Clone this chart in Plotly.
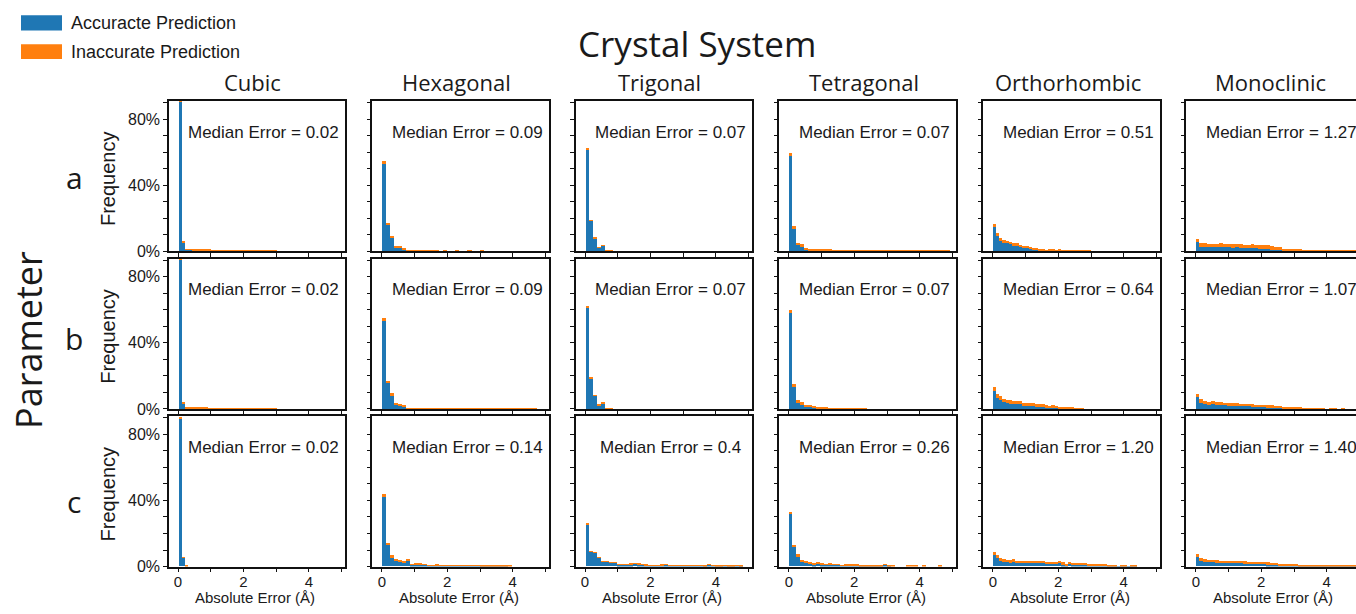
import plotly.graph_objects as go

W, H = 1356, 614

systems = ["Cubic", "Hexagonal", "Trigonal", "Tetragonal", "Orthorhombic", "Monoclinic"]
params = ["a", "b", "c"]
bin_widths = [0.1, 0.125, 0.12, 0.12, 0.1, 0.12]

median_a = ["0.02", "0.09", "0.07", "0.07", "0.51", "1.27"]
median_b = ["0.02", "0.09", "0.07", "0.07", "0.64", "1.07"]
median_c = ["0.02", "0.14", "0.4", "0.26", "1.20", "1.40"]

x_tick_vals = [0, 1, 2, 3, 4, 5]
x_tick_text = ["0", "", "2", "", "4", ""]
y_tick_vals = [0, 0.1, 0.2, 0.3, 0.4, 0.5, 0.6, 0.7, 0.8, 0.9]
y_tick_text = ["0%", "", "", "", "40%", "", "", "", "80%", ""]

# ---- histogram values (percent of structures per bin) ----
cubic_a_acc = [90.5, 5.5, 0.8, 0.8, 0.7, 0.5, 0.3, 0.6, 0.6, 0.4, 0.3, 0.2, 0.3, 0.2, 0.2, 0.2, 0.1, 0.1, 0.2, 0.1, 0.1, 0.1, 0.1, 0.1, 0.1, 0.1, 0.1, 0.1, 0.1, 0.1]
cubic_a_inacc = [0.6, 0.5, 0.3, 0.3, 0.3, 0.4, 0.5, 0.4, 0.3, 0.4, 0.4, 0.5, 0.4, 0.3, 0.4, 0.3, 0.4, 0.3, 0.3, 0.4, 0.3, 0.3, 0.3, 0.3, 0.3, 0.3, 0.3, 0.3, 0.3, 0.3]
cubic_b_acc = [90.5, 3.5, 0.5, 0.4, 0.3, 0.3, 0.2, 0.2, 0.2, 0.1, 0.1, 0.1, 0.1, 0.1, 0.1, 0.1, 0.1, 0.1, 0.1, 0.1, 0.1, 0.1, 0.1, 0.1, 0.1, 0.1, 0.1, 0.1, 0.1, 0.1]
cubic_b_inacc = [0.6, 0.5, 0.5, 0.6, 0.6, 0.6, 0.7, 0.6, 0.6, 0.5, 0.5, 0.5, 0.6, 0.5, 0.5, 0.5, 0.5, 0.4, 0.5, 0.5, 0.4, 0.4, 0.4, 0.4, 0.4, 0.4, 0.4, 0.4, 0.4, 0.4]
cubic_c_acc = [89.5, 5.0, 0.0]
cubic_c_inacc = [0.4, 0.5, 0.6]

hex_a_acc = [53.0, 16.0, 7.8, 2.4, 2.2, 1.1, 0.2, 0.1, 0.1, 0.1, 0.0, 0.1, 0.0, 0.1, 0.0, 0.1, 0.0, 0.0, 0.1, 0.0, 0.0, 0.1, 0.0, 0.0, 0.1, 0.0, 0.0, 0.0]
hex_a_inacc = [1.8, 0.5, 1.6, 0.8, 0.6, 0.3, 0.3, 0.3, 0.2, 0.2, 0.2, 0.1, 0.2, 0.1, 0.1, 0.2, 0.1, 0.1, 0.1, 0.1, 0.1, 0.1, 0.1, 0.1, 0.1, 0.1, 0.1, 0.1]
hex_b_acc = [53.3, 16.0, 8.0, 3.0, 2.2, 1.6, 0.3, 0.2, 0.2, 0.1, 0.2, 0.1, 0.1, 0.2, 0.1, 0.1, 0.2, 0.1, 0.1, 0.1, 0.1, 0.2, 0.1, 0.1, 0.1, 0.1, 0.1, 0.1, 0.2, 0.1, 0.1, 0.1, 0.1, 0.1, 0.1, 0.1, 0.1, 0.1]
hex_b_inacc = [1.8, 0.7, 1.6, 0.6, 0.6, 0.4, 0.3, 0.3, 0.4, 0.3, 0.5, 0.3, 0.4, 0.5, 0.5, 0.3, 0.3, 0.2, 0.2, 0.2, 0.2, 0.2, 0.2, 0.2, 0.2, 0.2, 0.2, 0.2, 0.2, 0.2, 0.2, 0.2, 0.2, 0.2, 0.2, 0.2, 0.2, 0.2]
hex_c_acc = [42.4, 13.1, 5.4, 3.6, 3.0, 2.4, 3.6, 0.8, 1.2, 1.0, 0.8, 0.3, 0.3, 0.5, 0.3, 0.2, 0.3, 0.3, 0.4, 0.2, 0.3, 0.2, 0.2, 0.3, 0.1, 0.1, 0.1, 0.1, 0.1, 0.1, 0.1, 0.0]
hex_c_inacc = [1.2, 0.6, 1.2, 0.6, 0.6, 0.6, 0.6, 0.4, 0.6, 0.8, 0.4, 0.3, 0.3, 0.3, 0.4, 0.3, 0.3, 0.3, 0.3, 0.3, 0.3, 0.3, 0.3, 0.3, 0.1, 0.1, 0.1, 0.3, 0.1, 0.1, 0.1, 0.3]

trig_a_acc = [61.3, 18.5, 8.0, 2.0, 3.5, 0.0, 0.0]
trig_a_inacc = [1.4, 0.3, 0.2, 0.1, 0.1, 0.5, 0.3]
trig_b_acc = [61.5, 18.8, 8.2, 2.5, 3.6, 0.0, 0.0]
trig_b_inacc = [1.2, 0.3, 0.2, 0.1, 0.2, 0.5, 0.4]
trig_c_acc = [25.5, 9.0, 8.2, 5.4, 3.0, 2.6, 2.4, 2.0, 1.0, 0.8, 1.0, 1.2, 1.4, 1.2, 0.9, 0.7, 0.5, 0.4, 0.4, 0.6, 0.9, 0.4, 0.3, 0.2, 0.2, 0.3, 0.3, 0.2, 0.2, 0.2, 0.1, 1.0, 0.2, 0.1, 0.1, 0.2, 0.1, 0.1, 0.2, 0.1]
trig_c_inacc = [0.3, 0.1, 0.2, 0.2, 0.1, 0.1, 0.1, 0.1, 0.3, 0.2, 0.3, 0.4, 0.4, 0.3, 0.2, 0.2, 0.1, 0.1, 0.1, 0.2, 0.4, 0.2, 0.1, 0.1, 0.2, 0.2, 0.1, 0.1, 0.1, 0.1, 0.1, 0.1, 0.1, 0.1, 0.1, 0.1, 0.1, 0.1, 0.1, 0.1]

tetr_a_acc = [57.7, 13.4, 3.6, 2.8, 1.2, 0.6, 0.6, 0.5, 0.2, 0.2, 0.2, 0.1, 0.1, 0.1, 0.1, 0.1, 0.1, 0.1, 0.1, 0.1, 0.1, 0.1, 0.1, 0.1, 0.1, 0.0, 0.0, 0.0, 0.0, 0.0, 0.0, 0.0, 0.0, 0.0, 0.0, 0.0, 0.0, 0.0, 0.0, 0.0, 0.0]
tetr_a_inacc = [1.6, 1.8, 1.6, 1.4, 1.0, 0.8, 0.8, 0.9, 0.6, 0.6, 0.6, 0.5, 0.5, 0.3, 0.3, 0.3, 0.3, 0.3, 0.3, 0.6, 0.3, 0.3, 0.3, 0.2, 0.2, 0.2, 0.2, 0.2, 0.2, 0.6, 0.2, 0.2, 0.2, 0.2, 0.2, 0.2, 0.2, 0.2, 0.2, 0.2, 0.3]
tetr_b_acc = [58.5, 13.7, 3.8, 3.0, 1.8, 1.4, 1.0, 0.6, 0.4, 0.6, 0.3, 0.1, 0.2, 0.1, 0.1, 0.1, 0.0, 0.0, 0.0, 0.0]
tetr_b_inacc = [1.5, 1.8, 1.6, 1.2, 0.6, 1.0, 0.8, 0.6, 0.6, 0.8, 0.3, 0.2, 0.4, 0.2, 0.2, 0.2, 0.2, 0.2, 0.2, 0.2]
tetr_c_acc = [32.0, 12.0, 6.0, 3.0, 2.4, 1.8, 1.2, 1.8, 1.2, 0.8, 1.2, 0.8, 0.8, 0.3, 0.6, 0.6, 0.6, 0.6, 0.1, 0.1, 0.1, 0.1, 0.1, 0.1, 1.0, 0.1, 0.0, 0.0, 0.0, 0.0, 0.0, 0.0, 0.0, 0.0, 0.0, 0.0, 0.0, 0.0, 0.0]
tetr_c_inacc = [0.8, 0.5, 1.2, 0.6, 0.6, 0.6, 0.6, 0.6, 0.6, 0.4, 0.6, 0.4, 0.4, 0.3, 0.6, 0.6, 0.6, 0.6, 0.5, 0.5, 0.5, 0.5, 0.5, 0.5, 0.3, 0.5, 0.5, 0.0, 0.0, 0.0, 0.5, 0.5, 0.5, 0.0, 0.5, 0.0, 0.0, 0.0, 0.5]

ortho_a_acc = [14.5, 9.1, 6.1, 5.2, 4.8, 4.2, 3.4, 3.0, 2.4, 2.0, 1.8, 1.4, 1.0, 1.0, 0.6, 0.4, 0.3, 0.3, 0.2, 0.2, 0.3, 0.1, 0.1, 0.1, 0.1, 0.1, 0.1, 0.1, 0.1, 0.1]
ortho_a_inacc = [1.8, 1.8, 1.9, 1.5, 1.4, 1.4, 1.6, 2.0, 1.4, 1.2, 1.4, 0.6, 0.6, 1.0, 0.8, 1.0, 0.3, 0.5, 0.6, 0.4, 0.5, 0.3, 0.3, 0.3, 0.3, 0.3, 0.3, 0.3, 0.3, 0.3]
ortho_b_acc = [11.3, 6.6, 5.4, 4.2, 3.6, 3.0, 3.0, 3.0, 3.0, 2.4, 2.2, 2.0, 2.0, 1.8, 1.6, 1.4, 1.2, 0.8, 1.2, 1.0, 0.6, 0.6, 0.3, 0.2, 0.2, 0.1, 0.1, 0.1]
ortho_b_inacc = [2.4, 2.4, 2.4, 1.8, 1.8, 2.4, 1.8, 1.8, 1.8, 1.2, 1.4, 1.6, 1.6, 1.2, 1.4, 1.6, 1.2, 1.0, 1.2, 0.8, 0.6, 0.6, 0.5, 0.6, 0.6, 0.6, 0.6, 0.6]
ortho_c_acc = [7.0, 5.4, 3.6, 3.0, 2.6, 2.4, 2.8, 2.4, 2.2, 2.4, 2.2, 2.4, 2.2, 2.0, 2.2, 2.2, 1.8, 1.8, 1.6, 1.6, 2.0, 1.2, 0.6, 1.6, 0.8, 0.8, 0.8, 0.8, 0.8, 0.6, 0.6, 0.3, 0.2, 0.2, 0.2, 0.1, 0.1, 0.1, 0.1, 0.1, 0.1, 0.1, 0.1, 0.1]
ortho_c_inacc = [1.4, 1.2, 1.2, 1.2, 1.0, 1.2, 1.4, 1.0, 1.2, 1.0, 1.2, 1.0, 1.2, 1.2, 1.0, 1.2, 1.0, 1.0, 1.2, 0.8, 1.0, 1.2, 1.0, 1.2, 1.0, 1.2, 1.0, 0.8, 1.0, 0.8, 0.8, 0.7, 0.7, 0.6, 0.6, 0.6, 0.6, 0.6, 0.0, 0.6, 0.6, 0.0, 0.6, 0.6]

mono_a_acc = [5.8, 2.8, 2.8, 2.6, 2.6, 2.4, 2.6, 2.4, 2.4, 2.2, 2.4, 2.2, 2.0, 2.0, 2.0, 1.8, 1.6, 1.6, 1.4, 1.0, 0.8, 0.8, 0.4, 0.4, 0.3, 0.2, 0.2, 0.1, 0.1, 0.1, 0.1, 0.1, 0.1, 0.1, 0.1, 0.1, 0.1, 0.1, 0.1, 0.1, 0.1, 0.1]
mono_a_inacc = [1.4, 2.0, 2.0, 1.9, 1.9, 2.1, 2.2, 2.1, 2.1, 2.0, 2.1, 2.3, 2.0, 2.0, 2.2, 2.0, 2.0, 2.0, 2.4, 2.0, 1.6, 1.6, 0.8, 0.8, 0.7, 0.6, 0.6, 0.6, 0.6, 0.6, 0.5, 0.5, 0.5, 0.5, 0.5, 0.5, 0.5, 0.5, 0.5, 0.5, 0.5, 0.5]
mono_b_acc = [7.2, 3.6, 3.0, 2.4, 3.0, 2.4, 2.6, 2.4, 2.2, 2.2, 2.0, 2.0, 1.8, 1.8, 1.6, 1.6, 1.4, 1.4, 1.2, 1.2, 1.0, 0.8, 0.6, 0.5, 0.4, 0.2, 0.2, 0.2, 0.1, 0.1, 0.1, 0.1, 0.1, 0.0, 0.0, 0.1, 0.0, 0.0]
mono_b_inacc = [1.8, 2.4, 1.8, 1.8, 1.8, 1.8, 1.6, 1.6, 1.6, 1.6, 1.6, 1.4, 1.6, 1.4, 1.4, 1.2, 1.4, 1.2, 1.2, 1.2, 1.0, 0.8, 0.6, 0.7, 0.6, 0.6, 0.6, 0.5, 0.5, 0.5, 0.5, 0.5, 0.5, 0.0, 0.5, 0.5, 0.0, 0.5]
mono_c_acc = [6.0, 3.6, 3.0, 2.8, 2.6, 2.4, 2.2, 2.4, 2.2, 2.0, 2.0, 2.2, 1.8, 1.8, 1.6, 1.6, 1.4, 1.4, 1.2, 1.2, 0.8, 0.6, 0.5, 0.4, 0.3, 0.2, 0.1, 0.1, 0.1, 0.1, 0.1, 0.1, 0.1, 0.1, 0.1, 0.1, 0.1, 0.1, 0.1, 0.1, 0.1, 0.1]
mono_c_inacc = [1.2, 1.2, 1.2, 1.0, 1.0, 1.2, 1.2, 1.0, 1.0, 1.2, 1.0, 1.0, 1.2, 1.0, 1.2, 1.0, 1.0, 1.0, 1.2, 1.0, 1.0, 0.8, 0.7, 0.7, 0.6, 0.6, 0.5, 0.5, 0.5, 0.5, 0.5, 0.5, 0.5, 0.5, 0.5, 0.5, 0.5, 0.5, 0.5, 0.5, 0.5, 0.5]

accurate = [
    [cubic_a_acc, hex_a_acc, trig_a_acc, tetr_a_acc, ortho_a_acc, mono_a_acc],
    [cubic_b_acc, hex_b_acc, trig_b_acc, tetr_b_acc, ortho_b_acc, mono_b_acc],
    [cubic_c_acc, hex_c_acc, trig_c_acc, tetr_c_acc, ortho_c_acc, mono_c_acc],
]
inaccurate = [
    [cubic_a_inacc, hex_a_inacc, trig_a_inacc, tetr_a_inacc, ortho_a_inacc, mono_a_inacc],
    [cubic_b_inacc, hex_b_inacc, trig_b_inacc, tetr_b_inacc, ortho_b_inacc, mono_b_inacc],
    [cubic_c_inacc, hex_c_inacc, trig_c_inacc, tetr_c_inacc, ortho_c_inacc, mono_c_inacc],
]
medians = [median_a, median_b, median_c]

BLUE = "#1f77b4"
ORANGE = "#ff7f0e"
AX = "#111111"
TXT = "#1a1a1a"
SANS = "Liberation Sans, Arial, sans-serif"
TITLEF = "Open Sans, Noto Sans, sans-serif"

# layout geometry in page pixels
lefts = [168.5, 372.3, 575.5, 779.3, 983.3, 1186.3]
pw = 176.5
rows_px = [(102.5, 255.0), (262.5, 415.0), (422.5, 575.0)]
xr0, xr1 = -0.29, 5.10
yr = [0, 0.909]


def px_x(p):
    return p / W


def px_y(p):
    return 1 - p / H


fig = go.Figure()
layout = {}
annotations = []
shapes = []

for r in range(3):
    top, bot = rows_px[r]
    for c in range(6):
        k = r * 6 + c + 1
        sx = "" if k == 1 else str(k)
        l = lefts[c]
        rr = min(l + pw, W)
        xmax = xr0 + (rr - l) / pw * (xr1 - xr0)
        bw = bin_widths[c]
        acc = accurate[r][c]
        ina = inaccurate[r][c]
        centers = [bw * (i + 0.5) for i in range(len(acc))]
        fig.add_trace(go.Bar(
            x=centers, y=[v / 100 for v in acc], width=bw,
            marker=dict(color=BLUE, line=dict(width=0)),
            name="Accuracte Prediction", showlegend=False,
            xaxis="x" + sx, yaxis="y" + sx,
        ))
        fig.add_trace(go.Bar(
            x=centers, y=[v / 100 for v in ina], width=bw,
            marker=dict(color=ORANGE, line=dict(width=0)),
            name="Inaccurate Prediction", showlegend=False,
            xaxis="x" + sx, yaxis="y" + sx,
        ))
        layout["xaxis" + sx] = dict(
            domain=[px_x(l), min(px_x(rr), 1.0)], range=[xr0, xmax], anchor="y" + sx,
            showline=True, linecolor=AX, linewidth=1.5, mirror=True,
            ticks="outside", ticklen=3.5, tickwidth=1, tickcolor=AX,
            tickvals=x_tick_vals, ticktext=x_tick_text,
            showticklabels=(r == 2), ticklabelstandoff=-3,
            showgrid=False, zeroline=False,
            tickfont=dict(family=SANS, size=15, color=TXT), fixedrange=True,
        )
        layout["yaxis" + sx] = dict(
            domain=[px_y(bot), px_y(top)], range=yr, anchor="x" + sx,
            showline=True, linecolor=AX, linewidth=1.5, mirror=(c != 5),
            ticks="outside", ticklen=3.5, tickwidth=1, tickcolor=AX,
            tickvals=y_tick_vals, ticktext=y_tick_text,
            showticklabels=(c == 0), showgrid=False, zeroline=False,
            tickfont=dict(family=SANS, size=16, color=TXT), fixedrange=True,
        )
        cx = l + 0.54 * pw
        annotations.append(dict(
            text="Median Error = " + medians[r][c], xref="paper", yref="paper",
            x=px_x(cx), y=px_y(top + 31.5), xanchor="center", yanchor="middle",
            showarrow=False, font=dict(family=SANS, size=17, color=TXT),
        ))
        if r == 2:
            annotations.append(dict(
                text="Absolute Error (Å)", xref="paper", yref="paper",
                x=px_x(l + pw / 2 - 2), y=px_y(606), xanchor="center", yanchor="middle",
                showarrow=False, font=dict(family=SANS, size=15, color=TXT),
            ))
        if c == 0:
            annotations.append(dict(
                text="Frequency", xref="paper", yref="paper",
                x=px_x(108), y=px_y((top + bot) / 2 + 3), xanchor="center", yanchor="middle",
                textangle=-90, showarrow=False, font=dict(family=SANS, size=20, color=TXT),
            ))
    annotations.append(dict(
        text=params[r], xref="paper", yref="paper",
        x=px_x(74), y=px_y([180, 344, 509][r]), xanchor="center", yanchor="middle",
        showarrow=False, font=dict(family=TITLEF, size=30, color=TXT),
    ))

for c in range(6):
    annotations.append(dict(
        text=systems[c], xref="paper", yref="paper",
        x=px_x(lefts[c] + pw / 2 - 4), y=px_y(83), xanchor="center", yanchor="middle",
        showarrow=False, font=dict(family=TITLEF, size=22, color=TXT),
    ))

annotations.append(dict(
    text="Crystal System", xref="paper", yref="paper",
    x=px_x(697), y=px_y(44), xanchor="center", yanchor="middle",
    showarrow=False, font=dict(family=TITLEF, size=35, color=TXT),
))
annotations.append(dict(
    text="Parameter", xref="paper", yref="paper",
    x=px_x(29), y=px_y(345), xanchor="center", yanchor="middle", textangle=-90,
    showarrow=False, font=dict(family=TITLEF, size=36, color=TXT),
))

legend_items = [("Accuracte Prediction", BLUE, 15.5, 31), ("Inaccurate Prediction", ORANGE, 45, 60)]
for label, col, y0, y1 in legend_items:
    shapes.append(dict(
        type="rect", xref="paper", yref="paper",
        x0=px_x(21), x1=px_x(62), y0=px_y(y1), y1=px_y(y0),
        fillcolor=col, line=dict(width=0),
    ))
    annotations.append(dict(
        text=label, xref="paper", yref="paper",
        x=px_x(69), y=px_y((y0 + y1) / 2), xanchor="left", yanchor="middle",
        showarrow=False, font=dict(family=SANS, size=18, color=TXT),
    ))

fig.update_layout(
    **layout,
    width=W, height=H,
    margin=dict(l=0, r=0, t=0, b=0),
    barmode="stack", bargap=0,
    plot_bgcolor="white", paper_bgcolor="white",
    showlegend=False,
    annotations=annotations, shapes=shapes,
)

# make the page exactly the figure's size (no body margin, no inline gaps)
page_css = (
    "var s=document.createElement('style');"
    "s.textContent='html,body{margin:0!important;padding:0!important;overflow:hidden!important;"
    "width:1356px!important;height:614px!important;font-size:0!important;line-height:0!important;}"
    "body>div{width:1356px!important;height:614px!important;overflow:hidden!important;}"
    ".plotly-graph-div{display:block!important;overflow:hidden!important;}';"
    "document.head.appendChild(s);"
)

fig.write_html("out.html", config={"displayModeBar": False}, post_script=page_css)
